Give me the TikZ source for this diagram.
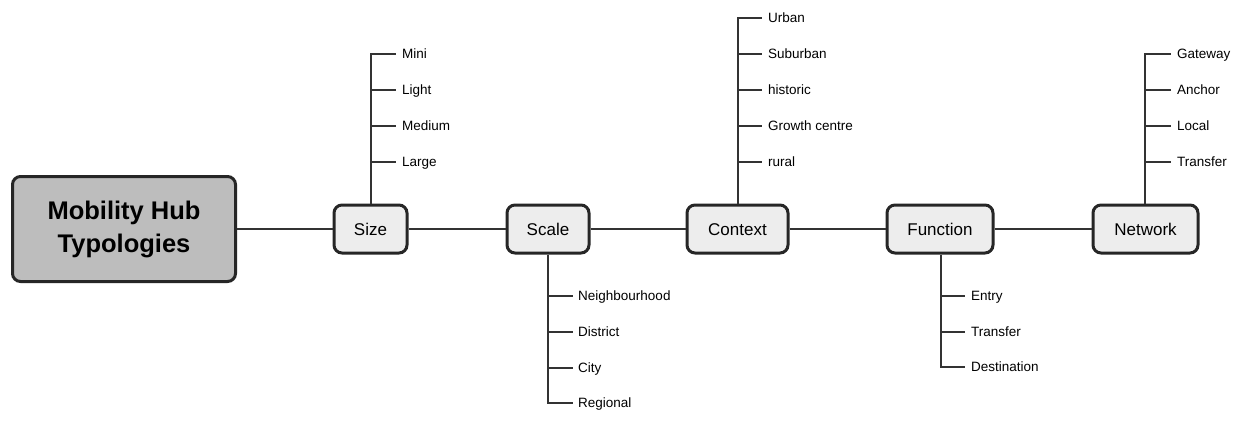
\documentclass[tikz,border=0pt]{standalone}
\usepackage{fontspec}
\setmainfont{Liberation Sans}
\begin{document}
\begin{tikzpicture}[x=1pt,y=-1pt,
  line/.style={draw=black!80, line width=2.7pt},
  hubbox/.style={draw=black!85, line width=3pt, rounded corners=8pt, fill=black!26, minimum width=223pt, minimum height=105pt, align=center, font=\fontsize{25.5}{33}\selectfont\bfseries},
  catbox/.style={draw=black!85, line width=3pt, rounded corners=8pt, fill=black!7, minimum height=48pt, inner xsep=0pt, text height=12.2pt, text depth=0pt, font=\fontsize{17}{20}\selectfont},
  item/.style={anchor=west, inner sep=0pt, text height=9.7pt, text depth=0pt, font=\fontsize{13.5}{16}\selectfont}
]
\useasboundingbox (0,0) rectangle (1245,423);
\fill[white] (0,0) rectangle (1245,423);

\node[hubbox] (hub) at (124,229) {Mobility Hub\\Typologies};
\node[catbox, minimum width=73pt] (size) at (370.5,229) {Size};
\node[catbox, minimum width=82pt] (scale) at (548,229) {Scale};
\node[catbox, minimum width=101pt] (context) at (737.5,229) {Context};
\node[catbox, minimum width=106pt] (function) at (940,229) {Function};
\node[catbox, minimum width=105pt] (network) at (1145.5,229) {Network};

\draw[line] (hub) -- (size);
\draw[line] (size) -- (scale);
\draw[line] (scale) -- (context);
\draw[line] (context) -- (function);
\draw[line] (function) -- (network);

% Size
\coordinate (s0) at (371,54);
\draw[line] (size.north -| s0) -- (s0) -- (396,54);
\foreach \t/\y [count=\i] in {Mini/54,Light/90,Medium/126,Large/162}{
  \node[item] (si\i) at (402,\y) {\t};
  \draw[line] (371,\y) -- (si\i.west -| 396,0);
}

% Scale
\coordinate (c0) at (548,403);
\draw[line] (scale.south -| c0) -- (c0) -- (573,403);
\foreach \t/\y [count=\i] in {Neighbourhood/296,District/332,City/368,Regional/403}{
  \node[item] (sc\i) at (578,\y) {\t};
  \draw[line] (548,\y) -- (sc\i.west -| 573,0);
}

% Context
\coordinate (x0) at (738,18);
\draw[line] (context.north -| x0) -- (x0) -- (762,18);
\foreach \t/\y [count=\i] in {Urban/18,Suburban/54,historic/90,Growth centre/126,rural/162}{
  \node[item] (cx\i) at (768,\y) {\t};
  \draw[line] (738,\y) -- (cx\i.west -| 762,0);
}

% Function
\coordinate (f0) at (941,367);
\draw[line] (function.south -| f0) -- (f0) -- (965,367);
\foreach \t/\y [count=\i] in {Entry/296,Transfer/332,Destination/367}{
  \node[item] (fn\i) at (971,\y) {\t};
  \draw[line] (941,\y) -- (fn\i.west -| 965,0);
}

% Network
\coordinate (n0) at (1145,54);
\draw[line] (network.north -| n0) -- (n0) -- (1171,54);
\foreach \t/\y [count=\i] in {Gateway/54,Anchor/90,Local/126,Transfer/162}{
  \node[item] (nw\i) at (1177,\y) {\t};
  \draw[line] (1145,\y) -- (nw\i.west -| 1171,0);
}
\end{tikzpicture}
\end{document}
